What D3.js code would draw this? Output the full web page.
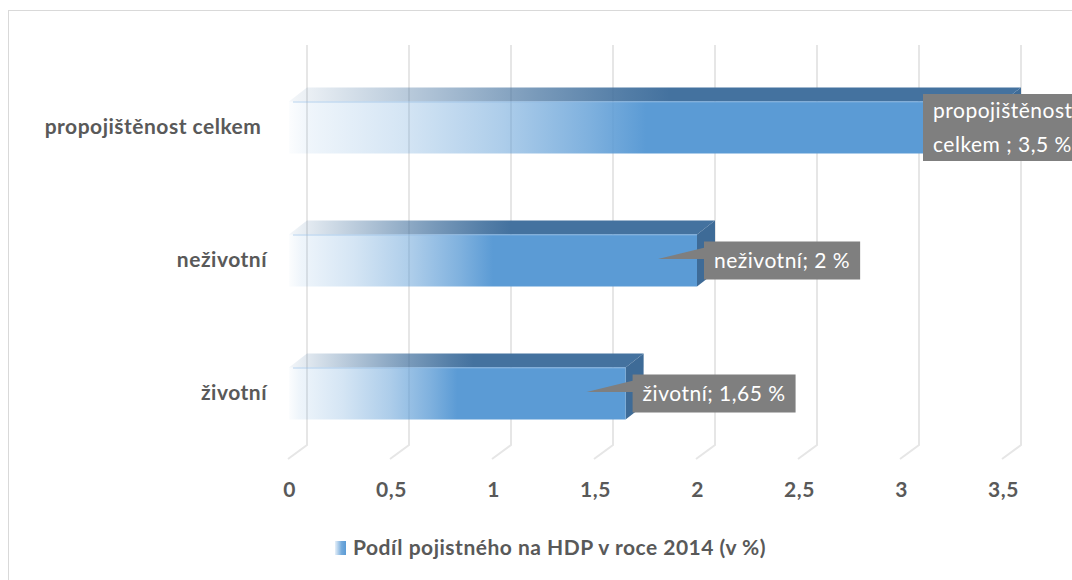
<!DOCTYPE html>
<html>
<head>
<meta charset="utf-8">
<script src="https://cdn.jsdelivr.net/npm/d3@7"></script>
<style>
  html, body { margin: 0; padding: 0; background: #fff; }
  svg { display: block; font-family: Lato, "Open Sans", sans-serif; }
  text { white-space: pre; letter-spacing: 0.5px; }
</style>
</head>
<body>
<svg id="chart" width="1072" height="580"></svg>
<script>
// Podíl pojistného na HDP v roce 2014 (v %)
const categories = ["propojištěnost celkem ", "neživotní", "životní"];
const values = [3.5, 2, 1.65];
const ticks = [0, 0.5, 1, 1.5, 2, 2.5, 3, 3.5];
const seriesName = "Podíl pojistného na HDP v roce 2014 (v %)";

const W = 1072, H = 580;
const DX = 18, DY = 14;          // depth of the 3D bars
const BAR_H = 52;
const GRID_TOP = 45, FLOOR_Y = 445;
const FONT = 21;
const BLUE = "#5b9bd5", BLUE_TOP = "#44729f", BLUE_SIDE = "#3e6b97";
const AXIS_GREY = "#595959", LABEL_BG = "#7f7f7f";

const cz = d3.formatLocale({ decimal: ",", thousands: " ", grouping: [3], currency: ["", " Kč"] });
const fmt = cz.format("~g");

const svg = d3.select("#chart");

// back wall scale and front plane scale
const xBack = d3.scaleLinear().domain([0, 3.5]).range([307, 1021]);
const xFront = d3.scaleLinear().domain(xBack.domain()).range(xBack.range().map(r => r - DX));
const yC = d3.scalePoint().domain(categories).range([127.5, 393.5]);

// gradients
const defs = svg.append("defs");
function fadeGrad(id, color, stops) {
  const g = defs.append("linearGradient").attr("id", id)
    .attr("x1", 0).attr("x2", 1).attr("y1", 0).attr("y2", 0);
  stops.forEach(([o, a]) => g.append("stop").attr("offset", o)
    .attr("stop-color", color).attr("stop-opacity", a));
}
fadeGrad("gFront", BLUE, [[0, 0.02], [0.03, 0.1], [0.16, 0.26], [0.3, 0.5], [0.42, 0.78], [0.5, 1], [1, 1]]);
fadeGrad("gTop", BLUE_TOP, [[0, 0.06], [0.08, 0.22], [0.2, 0.45], [0.34, 0.72], [0.46, 0.92], [0.52, 1], [1, 1]]);
fadeGrad("gLegend", BLUE, [[0, 0.15], [0.6, 0.85], [1, 1]]);

// chart frame
svg.append("rect").attr("x", 8.5).attr("y", 10.5)
  .attr("width", W + 20).attr("height", H + 20)
  .attr("fill", "none").attr("stroke", "#d9d9d9").attr("stroke-width", 1);

// gridlines: back wall verticals plus floor diagonals
const grid = svg.append("g").attr("stroke", "#e6e6e6").attr("stroke-width", 2).attr("fill", "none");
grid.selectAll("path").data(ticks).join("path")
  .attr("d", d => `M${xBack(d)},${GRID_TOP}V${FLOOR_Y}L${xFront(d) - 1},${FLOOR_Y + DY}`);

// bars
const bars = svg.append("g").selectAll("g")
  .data(categories.map((c, i) => ({ c, v: values[i] })))
  .join("g");

bars.append("path") // top face
  .attr("fill", "url(#gTop)")
  .attr("d", d => {
    const x0 = xFront(0), x1 = xFront(d.v), t = yC(d.c) - BAR_H / 2;
    return `M${x0},${t}L${x1},${t}L${x1 + DX},${t - DY}L${x0 + DX},${t - DY}Z`;
  });
bars.append("path") // right face
  .attr("fill", BLUE_SIDE)
  .attr("d", d => {
    const x1 = xFront(d.v), t = yC(d.c) - BAR_H / 2, b = t + BAR_H;
    return `M${x1},${t}L${x1 + DX},${t - DY}L${x1 + DX},${b - DY}L${x1},${b}Z`;
  });
bars.append("rect") // front face
  .attr("fill", "url(#gFront)")
  .attr("x", xFront(0))
  .attr("y", d => yC(d.c) - BAR_H / 2)
  .attr("width", d => xFront(d.v) - xFront(0))
  .attr("height", BAR_H);
bars.append("line") // light front edge
  .attr("x1", xFront(0) + 4).attr("x2", d => xFront(d.v))
  .attr("y1", d => yC(d.c) - BAR_H / 2 + 0.5).attr("y2", d => yC(d.c) - BAR_H / 2 + 0.5)
  .attr("stroke", "#8fbbe6").attr("stroke-opacity", 0.6);

// category labels
svg.append("g").selectAll("text").data(categories).join("text")
  .attr("x", 267).attr("y", d => yC(d) + 6)
  .attr("text-anchor", "end")
  .attr("font-size", FONT).attr("font-weight", "bold").attr("fill", AXIS_GREY)
  .text(d => d);

// value axis labels
const axis = svg.append("g").attr("transform", `translate(0,${FLOOR_Y + 38})`)
  .call(d3.axisBottom(xFront).tickValues(ticks).tickFormat(fmt).tickSize(0).tickPadding(0));
axis.select(".domain").remove();
axis.selectAll("text")
  .attr("font-family", "Lato, 'Open Sans', sans-serif")
  .attr("font-size", FONT).attr("font-weight", "bold").attr("fill", AXIS_GREY)
  .attr("dy", "0.66em");

// data callouts
const callouts = svg.append("g").attr("font-size", FONT).attr("fill", "#fff");
categories.forEach((c, i) => {
  const v = values[i], cy = yC(c);
  const label = `${c}; ${fmt(v)} %`;
  const g = callouts.append("g");
  const probe = g.append("text").text(label);
  const tw = probe.node().getComputedTextLength();
  probe.remove();
  let bx = xFront(v) + 7;
  if (bx + tw + 20 <= W) {
    const by = cy - 19;
    const tip = xFront(v) - 39;
    g.append("path").attr("fill", LABEL_BG)
      .attr("d", `M${bx + 1},${by + 6}L${tip},${cy - 1.5}L${bx + 1},${cy - 1.5}Z`);
    g.append("rect").attr("x", bx).attr("y", by).attr("width", tw + 20).attr("height", 38)
      .attr("fill", LABEL_BG);
    g.append("text").attr("x", bx + 10).attr("y", by + 26).attr("fill", "#fff").text(label);
  } else {
    // too wide: wrap after the first word and pin to the right margin
    const sp = c.indexOf(" ");
    const lines = [c.slice(0, sp), `${c.slice(sp + 1)}; ${fmt(v)} %`];
    bx = W - 149;
    const by = cy - 33.5;
    g.append("rect").attr("x", bx).attr("y", by).attr("width", 200).attr("height", 67)
      .attr("fill", LABEL_BG);
    lines.forEach((l, k) => g.append("text").attr("x", bx + 10).attr("y", by + 24 + k * 34)
      .attr("fill", "#fff").text(l));
  }
});

// legend
const lg = svg.append("g");
lg.append("rect").attr("x", 335).attr("y", 541).attr("width", 11).attr("height", 14)
  .attr("fill", "url(#gLegend)");
lg.append("text").attr("x", 353).attr("y", 555)
  .attr("font-size", FONT).attr("font-weight", "bold").attr("fill", AXIS_GREY)
  .text(seriesName);
</script>
</body>
</html>
